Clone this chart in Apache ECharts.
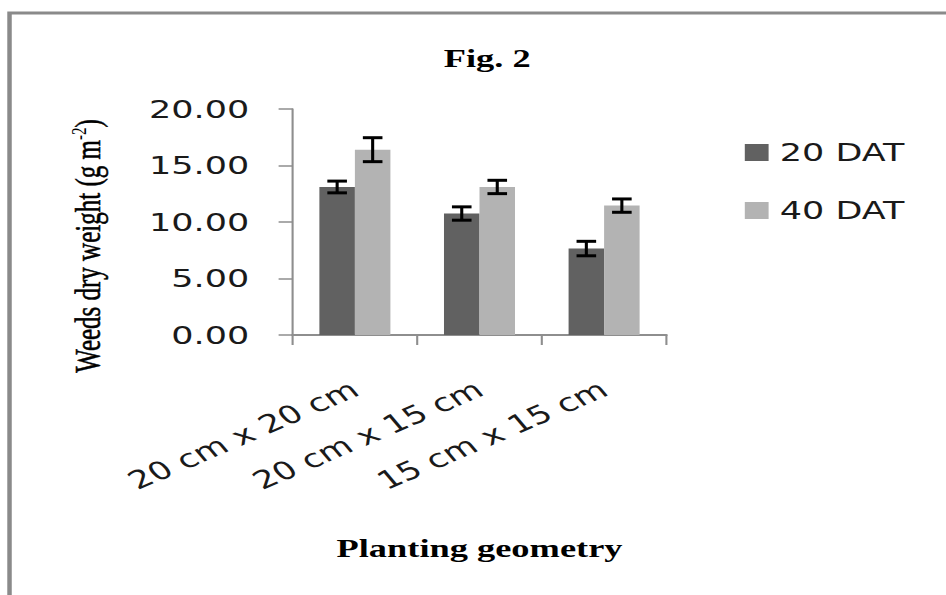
<!DOCTYPE html>
<html>
<head>
<meta charset="utf-8">
<script src="https://cdn.jsdelivr.net/npm/echarts@6/dist/echarts.min.js"></script>
<style>
  html, body { margin: 0; padding: 0; background: #ffffff; overflow: hidden; }
  #wrap { width: 946px; height: 595px; overflow: hidden; position: relative; }
  #c { width: 676px; height: 595px; transform: scaleX(1.4); transform-origin: 0 0; }
</style>
</head>
<body>
<div id="wrap"><div id="c"></div></div>
<script>
// ---- data ----
const categories = ['20 cm x 20 cm', '20 cm x 15 cm', '15 cm x 15 cm'];
const seriesNames = ['20 DAT', '40 DAT'];
const dat20 = [13.1, 10.75, 7.65];
const dat40 = [16.4, 13.1, 11.45];
const err20 = [0.52, 0.59, 0.64];
const err40 = [1.06, 0.59, 0.59];
const yMin = 0, yMax = 20, yStep = 5;

const CAT_GAP = 0.43;
const colors = ['#616161', '#b3b3b3'];

function errSeries(vals, errs, sign) {
  return {
    type: 'custom',
    z: 10,
    silent: true,
    data: vals.map((v, i) => [i, v, errs[i]]),
    renderItem: function (params, api) {
      const i = api.value(0), v = api.value(1), e = api.value(2);
      const c = api.coord([i, v]);
      const top = api.coord([i, v + e]);
      const bot = api.coord([i, v - e]);
      const band = api.size([1, 0])[0];
      const bw = band * (1 - CAT_GAP) / 2;
      const x = c[0] + sign * bw / 2;
      const cap = 7;
      const st = { stroke: '#000', lineWidth: 3 };
      return {
        type: 'group',
        children: [
          { type: 'line', shape: { x1: x, y1: top[1], x2: x, y2: bot[1] }, style: { stroke: '#000', lineWidth: 2.2 } },
          { type: 'line', shape: { x1: x - cap, y1: top[1], x2: x + cap, y2: top[1] }, style: st },
          { type: 'line', shape: { x1: x - cap, y1: bot[1], x2: x + cap, y2: bot[1] }, style: st }
        ]
      };
    }
  };
}

const chart = echarts.init(document.getElementById('c'), null, { renderer: 'svg' });
chart.setOption({
  backgroundColor: '#ffffff',
  animation: false,
  graphic: [{
    type: 'rect', silent: true, z: -1,
    shape: { x: 6.8, y: 13, width: 2000, height: 2000 },
    style: { fill: 'none', stroke: '#8a8a8a', lineWidth: 3.2 }
  }],
  title: {
    text: 'Fig. 2',
    left: 343, top: 40, textAlign: 'center',
    textStyle: { fontFamily: 'Liberation Serif', fontWeight: 'bold', fontSize: 26, color: '#000' }
  },
  legend: {
    orient: 'vertical',
    left: 527, top: 135,
    itemWidth: 17, itemHeight: 17, itemGap: 33,
    icon: 'rect',
    data: seriesNames,
    textStyle: { fontFamily: 'DejaVu Sans', fontSize: 25, color: '#1a1a1a', padding: [0, 0, 0, 3] }
  },
  grid: { left: 209, top: 109, width: 267, height: 226, containLabel: false },
  xAxis: {
    type: 'category',
    data: categories,
    boundaryGap: true,
    axisLine: { lineStyle: { color: '#8e8e8e', width: 2 } },
    axisTick: { show: true, length: 10, alignWithLabel: false, lineStyle: { color: '#8e8e8e', width: 1.5 } },
    axisLabel: { interval: 0, rotate: 31, margin: 52, fontFamily: 'DejaVu Sans', fontSize: 25, color: '#1a1a1a' },
    name: 'Planting geometry',
    nameLocation: 'middle',
    nameGap: 200,
    nameTextStyle: { fontFamily: 'Liberation Serif', fontWeight: 'bold', fontSize: 26, color: '#000' }
  },
  yAxis: {
    type: 'value',
    min: yMin, max: yMax, interval: yStep,
    splitLine: { show: false },
    axisLine: { show: true, lineStyle: { color: '#8e8e8e', width: 1.5 } },
    axisTick: { show: true, length: 10, lineStyle: { color: '#8e8e8e', width: 1.5 } },
    axisLabel: { margin: 31, fontFamily: 'DejaVu Sans', fontSize: 25, color: '#1a1a1a', formatter: v => v.toFixed(2) },
    name: '{a|Weeds dry weight (g m}{s|-2}{a|)}',
    nameLocation: 'middle',
    nameGap: 131,
    nameTextStyle: {
      color: '#000',
      padding: [0, 48, 0, 0],
      rich: {
        a: { fontFamily: 'Liberation Serif', fontWeight: 'normal', fontSize: 25, color: '#000', lineHeight: 29, textBorderColor: '#000', textBorderWidth: 0.4 },
        s: { fontFamily: 'Liberation Serif', fontWeight: 'normal', fontSize: 15, color: '#000', verticalAlign: 'top', lineHeight: 29 }
      }
    }
  },
  series: [
    { name: seriesNames[0], type: 'bar', data: dat20, barGap: '0%', barCategoryGap: (CAT_GAP * 100) + '%', itemStyle: { color: colors[0] } },
    { name: seriesNames[1], type: 'bar', data: dat40, barGap: '0%', barCategoryGap: (CAT_GAP * 100) + '%', itemStyle: { color: colors[1] } },
    errSeries(dat20, err20, -1),
    errSeries(dat40, err40, 1)
  ]
});
</script>
</body>
</html>
